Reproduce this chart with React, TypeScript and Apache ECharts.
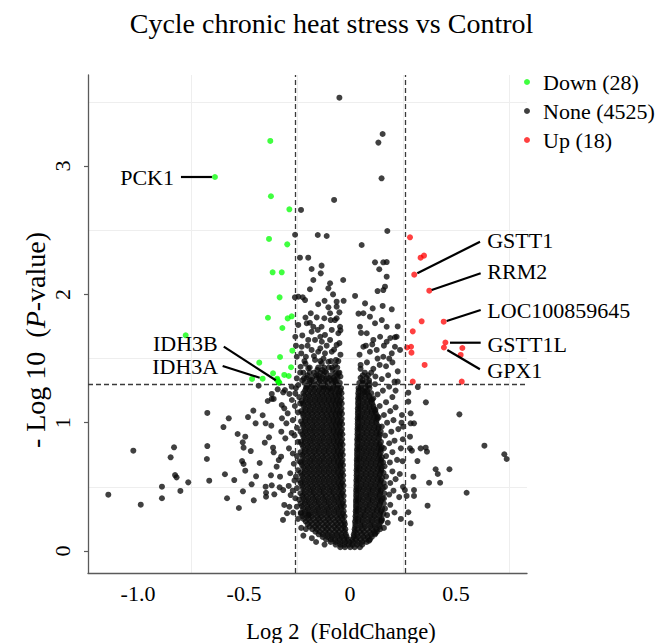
import React, { useEffect, useRef } from 'react';
import * as echarts from 'echarts';

const FONT = '"Liberation Serif", "Times New Roman", serif';

const TITLE = 'Cycle chronic heat stress vs Control';
const X_TITLE = 'Log 2  (FoldChange)';
const xTickValues = [-1, -0.5, 0, 0.5];
const xTickLabels = ['-1.0', '-0.5', '0', '0.5'];
const yTickValues = [0, 1, 2, 3];
const yTickLabels = ['0', '1', '2', '3'];
const xGridValues = [-0.75, -0.25, 0.25, 0.75];
const yGridValues = [0.5, 1.5, 2.5, 3.5];
const groupNames = ['Down', 'None', 'Up'];
const groupCounts = [28, 4525, 18];
const fcCutoff = 0.263; // log2(1.2)
const pCutoff = 1.301; // -log10(0.05)

// Down-regulated genes [log2FC, -log10 p]
const downPoints: number[][] = [
  [-0.637, 2.915], [-0.376, 3.196], [-0.373, 2.765], [-0.286, 2.663], [-0.382, 2.432],
  [-0.296, 2.39], [-0.365, 2.172], [-0.322, 2.172], [-0.332, 1.977], [-0.387, 1.818],
  [-0.294, 1.813], [-0.275, 1.829], [-0.319, 1.738], [-0.272, 1.561], [-0.33, 1.512],
  [-0.428, 1.468], [-0.278, 1.432], [-0.363, 1.385], [-0.31, 1.372], [-0.289, 1.364],
  [-0.462, 1.341], [-0.412, 1.343], [-0.343, 1.343], [-0.336, 1.315], [-0.775, 1.681],
  [-0.338, 1.322], [-0.333, 1.31], [-0.345, 1.335],
];

// Up-regulated genes
const upPoints: number[][] = [
  [0.283, 2.445], [0.333, 2.286], [0.349, 2.302], [0.303, 2.154], [0.374, 2.029],
  [0.338, 1.79], [0.442, 1.787], [0.296, 1.712], [0.45, 1.625], [0.443, 1.586],
  [0.53, 1.582], [0.269, 1.586], [0.288, 1.592], [0.29, 1.546], [0.522, 1.528],
  [0.352, 1.45], [0.296, 1.32], [0.527, 1.32],
];

// Not significant genes: scattered points read individually
const noneSparse: number[][] = [
  [-0.05, 3.533], [0.154, 3.25], [0.134, 3.183], [0.149, 2.905], [-0.075, 2.736], [0.176, 2.494],
  [0.055, 2.385], [0.118, 2.25], [0.157, 2.25], [0.173, 2.252], [-0.032, 2.112], [0.138, 2.196],
  [0.173, 2.138], [0.165, 2.06], [0.157, 2.034], [0.13, 2.026], [0.024, 1.988], [0.071, 1.93],
  [0.107, 1.891], [0.154, 1.91], [0.197, 1.884], [0.212, 1.666], [0.236, 1.567],
  [-0.231, 2.658], [-0.259, 2.465], [-0.152, 2.463], [-0.11, 2.455], [-0.236, 2.286], [-0.197, 2.286],
  [-0.134, 2.224], [-0.181, 2.198], [-0.173, 2.112], [-0.189, 2.04], [-0.138, 2.164], [-0.102, 2.047],
  [-0.26, 1.977], [-0.223, 1.977], [-0.15, 1.923], [-0.102, 1.899], [-0.185, 1.853], [-0.157, 1.821],
  [-0.244, 1.762], [-0.204, 1.775], [-0.173, 1.748], [-0.134, 1.748],
  [-0.094, 2.087], [-0.063, 1.943], [-0.244, 1.982], [-0.212, 1.956], [-0.121, 1.814], [-0.091, 1.8],
  [-0.063, 1.814], [-0.189, 1.779], [-0.258, 1.67], [-0.181, 1.709], [-0.152, 1.723], [-0.118, 1.684],
  [-0.086, 1.723], [-0.055, 1.697], [-0.197, 1.645], [-0.165, 1.645], [-0.133, 1.631], [-0.094, 1.645],
  [-0.063, 1.606], [-0.228, 1.592], [-0.181, 1.567], [-0.15, 1.553], [-0.118, 1.541], [-0.086, 1.553],
  [-0.251, 1.514], [-0.208, 1.514], [-0.165, 1.489], [-0.133, 1.463], [-0.102, 1.475], [-0.066, 1.489],
  [-0.233, 1.436], [-0.197, 1.424], [-0.154, 1.411], [-0.118, 1.398], [-0.082, 1.411], [-0.055, 1.385],
  [-0.251, 1.346], [-0.217, 1.346], [-0.181, 1.333], [-0.145, 1.346], [-0.11, 1.346], [-0.075, 1.333],
  [-0.244, 1.294], [-0.204, 1.281], [-0.165, 1.294], [-0.126, 1.281], [-0.094, 1.268], [-0.06, 1.294],
  [-0.307, 1.255], [-0.258, 1.229],
  [-0.045, 1.72], [-0.05, 1.86], [-0.225, 1.68], [-0.255, 1.6], [-0.14, 1.58], [-0.17, 1.52],
  [-0.1, 1.43], [-0.21, 1.46], [-0.07, 1.45], [-0.125, 1.5], [-0.19, 1.39], [-0.235, 1.39],
  [-0.16, 1.37], [-0.045, 1.36], [-0.09, 1.37], [-0.13, 1.41], [-0.2, 1.6], [-0.11, 1.6],
  [-0.075, 1.57], [-0.045, 1.53], [-0.23, 1.54], [-0.14, 1.67], [-0.21, 1.82], [-0.12, 1.95], [-0.08, 2.0],
  [0.063, 1.853], [0.094, 1.826], [0.118, 1.775], [0.15, 1.8], [0.173, 1.748], [0.22, 1.67],
  [0.212, 1.592], [0.047, 1.748], [0.079, 1.697], [0.11, 1.645], [0.142, 1.67], [0.173, 1.631],
  [0.197, 1.541], [0.063, 1.592], [0.094, 1.553], [0.126, 1.567], [0.157, 1.514], [-0.047, 1.748],
  [-0.071, 1.8], [-0.094, 1.853], [-0.063, 1.904],
  [0.05, 1.45], [0.08, 1.47], [0.11, 1.42], [0.14, 1.45], [0.17, 1.44], [0.2, 1.47],
  [0.06, 1.37], [0.09, 1.33], [0.12, 1.36], [0.15, 1.34], [0.18, 1.37], [0.21, 1.32],
  [0.225, 1.4], [0.185, 1.5], [0.13, 1.5], [0.045, 1.53], [0.075, 1.6], [0.105, 1.61],
  [0.16, 1.6], [0.19, 1.66], [0.225, 1.75], [0.04, 1.85], [-0.03, 1.95], [0.05, 1.42],
  [-0.05, 1.62], [0.052, 1.7],
  // left tail
  [-1.14, 0.439], [-1.022, 0.782], [-0.987, 0.361], [-0.887, 0.501], [-0.887, 0.411], [-0.846, 0.73],
  [-0.83, 0.808], [-0.825, 0.592], [-0.818, 0.574], [-0.8, 0.468], [-0.763, 0.535], [-0.673, 1.076],
  [-0.673, 0.818], [-0.675, 0.717], [-0.664, 0.548], [-0.597, 0.966], [-0.572, 1.034], [-0.59, 0.598],
  [-0.58, 0.411], [-0.546, 0.553], [-0.524, 0.335], [-0.53, 0.912], [-0.506, 0.847], [-0.494, 0.891],
  [-0.502, 0.805], [-0.468, 0.779], [-0.509, 0.701], [-0.502, 0.678], [-0.494, 0.626], [-0.505, 0.465],
  [-0.464, 0.52], [-0.443, 0.582], [-0.454, 0.395], [-0.481, 1.044], [-0.456, 1.094], [-0.445, 0.995],
  [-0.412, 1.058], [-0.398, 0.995], [-0.371, 0.977], [-0.402, 0.844], [-0.382, 0.886], [-0.363, 0.805],
  [-0.36, 0.769], [-0.426, 0.686], [-0.398, 0.501], [-0.396, 0.454], [-0.369, 0.512], [-0.357, 0.442],
  [-0.396, 0.423], [-0.373, 0.59], [-0.332, 0.496], [-0.315, 0.475], [-0.31, 0.359], [-0.286, 0.345],
  [-0.297, 0.294], [-0.316, 0.242], [-0.208, 0.171], [-0.195, 0.281], [-0.346, 0.657], [-0.33, 0.579],
  [-0.336, 0.709], [-0.325, 0.735], [-0.324, 0.93], [-0.321, 1.034], [-0.31, 1.112], [-0.369, 1.185],
  [-0.388, 1.169], [-0.36, 1.185], [-0.369, 1.224], [-0.341, 1.26], [-0.431, 1.288], [-0.315, 1.237],
  [-0.286, 1.224], [-0.274, 1.177], [-0.322, 1.138], [-0.294, 1.073], [-0.3, 0.995], [-0.305, 0.878],
  [-0.288, 0.8], [-0.282, 0.606], [-0.28, 0.436], [-0.258, 0.411], [-0.251, 0.345], [-0.289, 0.507],
  // right tail
  [0.358, 1.159], [0.516, 1.065], [0.634, 0.821], [0.728, 0.754], [0.739, 0.717], [0.55, 0.454],
  [0.469, 0.637], [0.425, 0.532], [0.404, 0.637], [0.414, 0.6], [0.373, 0.532], [0.366, 0.353],
  [0.318, 0.701], [0.333, 0.8], [0.357, 0.805], [0.363, 0.774], [0.299, 0.579], [0.302, 0.475],
  [0.302, 0.429], [0.286, 0.216], [0.275, 0.302], [0.286, 1.073], [0.286, 0.995], [0.302, 0.995],
  [0.283, 0.891], [0.275, 1.164], [0.275, 1.234], [0.32, 1.278], [0.283, 0.8], [0.292, 0.782],
  [0.267, 0.429], [0.259, 0.475], [0.249, 0.871], [0.245, 1.06], [0.251, 0.969],
  // right fringe of the core
  [0.16, 0.18], [0.15, 0.24], [0.175, 0.28], [0.165, 0.33], [0.19, 0.36], [0.16, 0.41],
  [0.185, 0.44], [0.205, 0.47], [0.165, 0.5], [0.19, 0.53], [0.215, 0.56], [0.17, 0.58],
  [0.2, 0.62], [0.163, 0.66], [0.188, 0.69], [0.222, 0.71], [0.17, 0.74], [0.2, 0.77],
  [0.16, 0.8], [0.185, 0.84], [0.21, 0.86], [0.165, 0.9], [0.195, 0.93], [0.228, 0.95],
  [0.15, 0.97], [0.175, 1.0], [0.205, 1.02], [0.16, 1.06], [0.19, 1.09], [0.215, 1.12],
  [0.14, 1.13], [0.17, 1.16], [0.2, 1.2], [0.13, 1.22], [0.155, 1.25], [0.185, 1.28],
  [0.215, 1.25], [0.235, 0.6], [0.24, 0.8], [0.243, 1.0], [0.232, 0.42], [0.21, 0.3],
  [0.24, 0.25], [0.12, 0.14], [0.09, 0.08], [0.178, 0.22], [0.25, 0.5], [0.248, 0.7],
  [0.225, 1.32], [0.118, 1.3], [0.09, 1.29], [0.06, 1.31], [0.07, 1.24], [0.105, 1.18],
  [0.12, 1.1], [0.135, 1.04],
  // left fringe of the core
  [-0.245, 0.25], [-0.24, 0.4], [-0.25, 0.49], [-0.262, 0.55], [-0.245, 0.63], [-0.265, 0.68],
  [-0.25, 0.74], [-0.27, 0.76], [-0.245, 0.85], [-0.262, 0.9], [-0.25, 0.96], [-0.27, 1.02],
  [-0.245, 1.08], [-0.26, 1.13], [-0.24, 1.2], [-0.255, 1.27], [-0.27, 0.47], [-0.268, 0.3],
  [-0.23, 0.18], [-0.22, 0.12], [-0.18, 0.1], [-0.16, 0.07], [-0.12, 0.05], [-0.255, 0.58],
  [-0.275, 0.92], [-0.235, 1.15], [-0.275, 1.28], [-0.232, 0.3], [-0.24, 0.7], [-0.238, 0.55],
];

// Not significant genes: the dense core of the volcano, row by row [-log10 p, log2FC values]
const noneCoreRows: [number, number[]][] = [
  [0.03, [-0.046, -0.024, 0.001, 0.022, 0.047]],
  [0.07, [-0.091, -0.068, -0.047, -0.024, -0.003, 0.013, 0.036, 0.057, 0.079]],
  [0.11, [-0.129, -0.105, -0.084, -0.059, -0.038, -0.016, 0.017, 0.038, 0.063, 0.084, 0.103]],
  [0.15, [-0.163, -0.142, -0.117, -0.096, -0.071, -0.05, -0.025, 0.022, 0.046, 0.067, 0.092, 0.113, 0.127]],
  [0.19, [-0.191, -0.166, -0.145, -0.12, -0.099, -0.074, -0.053, -0.029, 0.025, 0.05, 0.071, 0.096, 0.117, 0.139]],
  [0.23, [-0.209, -0.187, -0.162, -0.141, -0.116, -0.095, -0.07, -0.049, -0.027, 0.024, 0.038, 0.059, 0.084, 0.105, 0.13, 0.147]],
  [0.27, [-0.224, -0.201, -0.18, -0.155, -0.134, -0.109, -0.088, -0.063, -0.042, -0.026, 0.026, 0.049, 0.07, 0.095, 0.116, 0.139]],
  [0.31, [-0.213, -0.192, -0.167, -0.146, -0.121, -0.1, -0.075, -0.054, -0.03, 0.027, 0.036, 0.061, 0.082, 0.107, 0.128, 0.146]],
  [0.35, [-0.227, -0.202, -0.181, -0.156, -0.135, -0.11, -0.089, -0.064, -0.043, -0.029, 0.028, 0.049, 0.074, 0.095, 0.12, 0.139]],
  [0.39, [-0.214, -0.193, -0.168, -0.147, -0.122, -0.101, -0.076, -0.055, -0.031, 0.028, 0.038, 0.061, 0.086, 0.107, 0.132, 0.146]],
  [0.43, [-0.225, -0.204, -0.179, -0.158, -0.133, -0.112, -0.087, -0.066, -0.044, -0.03, 0.029, 0.05, 0.075, 0.096, 0.121, 0.14]],
  [0.47, [-0.216, -0.191, -0.17, -0.145, -0.124, -0.099, -0.078, -0.053, -0.032, 0.029, 0.039, 0.062, 0.087, 0.108, 0.133, 0.145]],
  [0.51, [-0.226, -0.203, -0.18, -0.157, -0.134, -0.111, -0.088, -0.065, -0.045, -0.031, 0.03, 0.051, 0.074, 0.097, 0.12, 0.141]],
  [0.55, [-0.215, -0.192, -0.169, -0.146, -0.123, -0.1, -0.077, -0.054, -0.033, 0.03, 0.04, 0.063, 0.086, 0.109, 0.132, 0.146]],
  [0.59, [-0.227, -0.204, -0.181, -0.158, -0.135, -0.112, -0.089, -0.066, -0.046, -0.032, 0.031, 0.052, 0.075, 0.098, 0.121, 0.14]],
  [0.63, [-0.214, -0.191, -0.168, -0.145, -0.122, -0.099, -0.076, -0.055, -0.034, 0.031, 0.041, 0.064, 0.087, 0.11, 0.133, 0.147]],
  [0.67, [-0.226, -0.202, -0.18, -0.156, -0.134, -0.11, -0.088, -0.064, -0.046, -0.033, 0.032, 0.053, 0.076, 0.099, 0.122, 0.141]],
  [0.71, [-0.215, -0.19, -0.168, -0.144, -0.122, -0.098, -0.076, -0.054, -0.035, 0.032, 0.042, 0.065, 0.088, 0.111, 0.134, 0.146]],
  [0.75, [-0.225, -0.203, -0.179, -0.157, -0.133, -0.111, -0.087, -0.065, -0.047, -0.034, 0.033, 0.054, 0.077, 0.1, 0.123, 0.14]],
  [0.79, [-0.214, -0.192, -0.168, -0.146, -0.122, -0.1, -0.076, -0.056, -0.036, 0.033, 0.043, 0.066, 0.089, 0.112, 0.135, 0.145]],
  [0.83, [-0.226, -0.202, -0.18, -0.156, -0.134, -0.11, -0.088, -0.066, -0.048, -0.035, 0.034, 0.055, 0.078, 0.101, 0.124, 0.14]],
  [0.87, [-0.215, -0.191, -0.169, -0.145, -0.123, -0.099, -0.077, -0.056, -0.037, 0.034, 0.044, 0.067, 0.09, 0.113, 0.136]],
  [0.91, [-0.225, -0.203, -0.179, -0.157, -0.133, -0.111, -0.087, -0.066, -0.049, -0.036, 0.035, 0.056, 0.079, 0.102, 0.125, 0.14]],
  [0.95, [-0.214, -0.19, -0.168, -0.144, -0.122, -0.098, -0.077, -0.057, -0.038, 0.035, 0.045, 0.068, 0.091, 0.114, 0.134]],
  [0.99, [-0.224, -0.202, -0.178, -0.156, -0.132, -0.11, -0.087, -0.067, -0.05, -0.037, 0.036, 0.057, 0.08, 0.103, 0.126]],
  [1.03, [-0.213, -0.19, -0.167, -0.144, -0.121, -0.099, -0.078, -0.058, -0.039, 0.036, 0.046, 0.069, 0.092, 0.115, 0.128]],
  [1.07, [-0.223, -0.2, -0.178, -0.155, -0.132, -0.11, -0.088, -0.068, -0.051, -0.038, 0.037, 0.058, 0.081, 0.104, 0.122]],
  [1.11, [-0.212, -0.189, -0.166, -0.143, -0.121, -0.099, -0.079, -0.059, -0.04, 0.037, 0.047, 0.07, 0.093, 0.113]],
  [1.15, [-0.222, -0.199, -0.177, -0.154, -0.132, -0.11, -0.089, -0.069, -0.052, -0.039, 0.038, 0.059, 0.082, 0.105]],
  [1.19, [-0.21, -0.188, -0.165, -0.143, -0.121, -0.1, -0.08, -0.06, -0.041, 0.038, 0.048, 0.071, 0.094, 0.11]],
  [1.23, [-0.22, -0.198, -0.176, -0.153, -0.132, -0.111, -0.09, -0.07, -0.053, -0.04, 0.039, 0.06, 0.083, 0.1]],
  [1.27, [-0.208, -0.186, -0.164, -0.142, -0.121, -0.1, -0.081, -0.061, -0.042, 0.04, 0.05, 0.072, 0.092]],
  [1.31, [-0.215, -0.19, -0.17, -0.148, -0.126, -0.104, -0.085, -0.066, -0.048, 0.044, 0.066, 0.09]],
  [1.35, [-0.205, -0.178, -0.156, -0.13, -0.1, -0.078, -0.058, 0.05, 0.078]],
  [1.39, [-0.22, -0.17, -0.14, -0.112, -0.068, -0.05, 0.07, 0.1]],
  [1.43, [-0.19, -0.15, -0.122, -0.085, -0.06]],
  [1.48, [-0.215, -0.14, -0.09, -0.055]],
];

// Second, interleaved layer of the dense core
const noneCoreRows2: [number, number[]][] = [
  [0.05, [-0.068, -0.046, -0.025, -0.006, 0.012, 0.034, 0.058]],
  [0.09, [-0.113, -0.09, -0.07, -0.048, -0.027, -0.01, 0.012, 0.028, 0.05, 0.072, 0.094]],
  [0.13, [-0.148, -0.128, -0.106, -0.083, -0.062, -0.04, -0.02, 0.018, 0.034, 0.056, 0.078, 0.1, 0.118]],
  [0.17, [-0.178, -0.156, -0.131, -0.109, -0.086, -0.063, -0.04, -0.022, 0.022, 0.036, 0.058, 0.081, 0.104, 0.126, 0.142]],
  [0.21, [-0.2, -0.178, -0.154, -0.131, -0.108, -0.085, -0.062, -0.04, -0.024, 0.025, 0.048, 0.07, 0.094, 0.116, 0.14]],
  [0.25, [-0.219, -0.196, -0.172, -0.149, -0.126, -0.103, -0.08, -0.057, -0.036, 0.027, 0.038, 0.06, 0.083, 0.106, 0.128, 0.15]],
  [0.29, [-0.232, -0.212, -0.19, -0.167, -0.144, -0.121, -0.098, -0.075, -0.052, -0.033, 0.028, 0.05, 0.072, 0.095, 0.118, 0.142, 0.158]],
  [0.33, [-0.221, -0.199, -0.176, -0.153, -0.13, -0.107, -0.084, -0.061, -0.04, 0.029, 0.04, 0.062, 0.085, 0.108, 0.131, 0.152]],
  [0.37, [-0.233, -0.213, -0.19, -0.167, -0.144, -0.121, -0.098, -0.075, -0.052, -0.035, 0.029, 0.05, 0.073, 0.096, 0.119, 0.142, 0.16]],
  [0.41, [-0.22, -0.197, -0.174, -0.151, -0.128, -0.105, -0.082, -0.059, -0.041, 0.03, 0.041, 0.063, 0.086, 0.109, 0.132, 0.153]],
  [0.45, [-0.234, -0.214, -0.191, -0.168, -0.145, -0.122, -0.099, -0.076, -0.054, -0.037, 0.03, 0.051, 0.074, 0.097, 0.12, 0.143, 0.162]],
  [0.49, [-0.222, -0.198, -0.175, -0.152, -0.129, -0.106, -0.083, -0.06, -0.042, 0.031, 0.042, 0.064, 0.087, 0.11, 0.133, 0.155]],
  [0.53, [-0.233, -0.213, -0.19, -0.167, -0.144, -0.121, -0.098, -0.075, -0.055, -0.038, 0.031, 0.052, 0.075, 0.098, 0.121, 0.144, 0.16]],
  [0.57, [-0.221, -0.197, -0.174, -0.151, -0.128, -0.105, -0.082, -0.06, -0.043, 0.032, 0.043, 0.065, 0.088, 0.111, 0.134, 0.152]],
  [0.61, [-0.234, -0.214, -0.191, -0.168, -0.145, -0.122, -0.099, -0.076, -0.056, -0.039, 0.032, 0.053, 0.076, 0.099, 0.122, 0.145, 0.158]],
  [0.65, [-0.22, -0.198, -0.175, -0.152, -0.129, -0.106, -0.083, -0.061, -0.044, 0.033, 0.044, 0.066, 0.089, 0.112, 0.135, 0.15]],
  [0.69, [-0.232, -0.213, -0.19, -0.167, -0.144, -0.121, -0.098, -0.075, -0.057, -0.04, 0.033, 0.054, 0.077, 0.1, 0.123, 0.146, 0.156]],
  [0.73, [-0.222, -0.197, -0.174, -0.151, -0.128, -0.105, -0.082, -0.062, -0.045, 0.034, 0.045, 0.067, 0.09, 0.113, 0.136, 0.151]],
  [0.77, [-0.233, -0.214, -0.191, -0.168, -0.145, -0.122, -0.099, -0.076, -0.058, -0.041, 0.034, 0.055, 0.078, 0.101, 0.124, 0.145]],
  [0.81, [-0.221, -0.198, -0.175, -0.152, -0.129, -0.106, -0.083, -0.063, -0.046, 0.035, 0.046, 0.068, 0.091, 0.114, 0.137, 0.15]],
  [0.85, [-0.232, -0.213, -0.19, -0.167, -0.144, -0.121, -0.098, -0.076, -0.059, -0.042, 0.035, 0.056, 0.079, 0.102, 0.125, 0.146]],
  [0.89, [-0.22, -0.197, -0.174, -0.151, -0.128, -0.105, -0.083, -0.064, -0.047, 0.036, 0.047, 0.069, 0.092, 0.115, 0.138]],
  [0.93, [-0.233, -0.212, -0.19, -0.167, -0.144, -0.121, -0.098, -0.077, -0.06, -0.043, 0.036, 0.057, 0.08, 0.103, 0.126, 0.145]],
  [0.97, [-0.221, -0.198, -0.175, -0.152, -0.129, -0.106, -0.084, -0.065, -0.048, 0.037, 0.048, 0.07, 0.093, 0.116, 0.136]],
  [1.01, [-0.231, -0.212, -0.19, -0.167, -0.144, -0.121, -0.098, -0.078, -0.061, -0.044, 0.037, 0.058, 0.081, 0.104, 0.124]],
  [1.05, [-0.22, -0.197, -0.174, -0.151, -0.128, -0.106, -0.085, -0.066, -0.049, 0.038, 0.049, 0.071, 0.094, 0.115, 0.13]],
  [1.09, [-0.23, -0.211, -0.189, -0.166, -0.143, -0.121, -0.099, -0.079, -0.062, -0.045, 0.038, 0.059, 0.082, 0.103, 0.118]],
  [1.13, [-0.219, -0.196, -0.173, -0.151, -0.129, -0.107, -0.086, -0.067, -0.05, 0.039, 0.05, 0.072, 0.093, 0.11]],
  [1.17, [-0.228, -0.21, -0.188, -0.165, -0.143, -0.121, -0.1, -0.08, -0.063, -0.046, 0.039, 0.06, 0.082, 0.1]],
  [1.21, [-0.216, -0.194, -0.172, -0.15, -0.129, -0.108, -0.087, -0.068, -0.051, 0.04, 0.051, 0.072, 0.09]],
  [1.25, [-0.212, -0.19, -0.168, -0.147, -0.126, -0.105, -0.085, -0.064, -0.046, 0.041, 0.06, 0.08]],
  [1.29, [-0.2, -0.176, -0.137, -0.115, -0.075, -0.055, 0.055, 0.082]],
  [1.33, [-0.226, -0.19, -0.142, -0.117, -0.09, -0.068, 0.06]],
  [1.37, [-0.2, -0.15, -0.125, -0.064, 0.085]],
];

// Labelled genes
const labelGeneNames = ['PCK1', 'IDH3B', 'IDH3A', 'GSTT1', 'RRM2', 'LOC100859645', 'GSTT1L', 'GPX1'];
const labelGeneFC = [-0.637, -0.336, -0.412, 0.303, 0.374, 0.442, 0.45, 0.443];
const labelGeneP = [2.915, 1.315, 1.343, 2.154, 2.029, 1.787, 1.625, 1.586];

// label placement (pixel offsets from the point) – style only
const labelLayout = [
  { start: [-3, 0], end: [-34, 0], text: [-41, 1], align: 'right' },
  { start: [-3, -2], end: [-55, -35.6], text: [-61, -39], align: 'right' },
  { start: [-3, -1], end: [-40, -12.7], text: [-44.4, -11.7], align: 'right' },
  { start: [3.1, -1.3], end: [65.8, -32.9], text: [73, -34.6], align: 'left' },
  { start: [2.4, -0.7], end: [51.4, -17.4], text: [58, -18.7], align: 'left' },
  { start: [3, -0.7], end: [37, -11.7], text: [43.6, -11.7], align: 'left' },
  { start: [4.6, 0.2], end: [35.3, 0.2], text: [42, 1.5], align: 'left' },
  { start: [3.4, 2.5], end: [36, 21.8], text: [43.4, 22.5], align: 'left' },
];

const rowsToPoints = (rows: [number, number[]][]) => rows.flatMap(([y, xs]) => xs.map((x) => [x, y]));

const nonePoints: number[][] = [...rowsToPoints(noneCoreRows), ...rowsToPoints(noneCoreRows2), ...noneSparse];

const legendNames = groupNames.map((n, i) => `${n} (${groupCounts[i]})`);

function tickLabel(values: number[], labels: string[], v: number) {
  for (let i = 0; i < values.length; i++) if (Math.abs(values[i] - v) < 1e-9) return labels[i];
  return '';
}

export default function App() {
  const ref = useRef<HTMLDivElement>(null);
  useEffect(() => {
    document.body.style.margin = '0';
    const chart = echarts.init(ref.current!, null, { renderer: 'svg' });
    const option: any = {
      animation: false,
      backgroundColor: '#ffffff',
      tooltip: { show: false },
      grid: { left: 88, right: 132, top: 75, bottom: 70, containLabel: false },
      legend: {
        data: legendNames,
        orient: 'vertical',
        left: 519,
        top: 66,
        icon: 'circle',
        itemWidth: 22,
        itemHeight: 6,
        itemGap: 7,
        selectedMode: false,
        textStyle: { fontSize: 22, fontFamily: FONT, color: '#000' },
      },
      xAxis: {
        type: 'value',
        min: -1.2358,
        max: 0.8349,
        axisLine: { show: true, onZero: false, lineStyle: { color: '#5a5a5a', width: 1.3 } },
        axisTick: { show: false },
        splitLine: { show: false },
        axisLabel: {
          customValues: xTickValues,
          formatter: (v: number) => tickLabel(xTickValues, xTickLabels, v),
          fontSize: 22,
          fontFamily: FONT,
          color: '#000',
          margin: 9,
        },
      },
      yAxis: {
        type: 'value',
        min: -0.1715,
        max: 3.71,
        axisLine: { show: true, onZero: false, lineStyle: { color: '#5a5a5a', width: 1.3 } },
        axisTick: { show: true, length: 4, customValues: yTickValues, lineStyle: { color: '#5a5a5a', width: 1.2 } },
        splitLine: { show: false },
        axisLabel: {
          customValues: yTickValues,
          formatter: (v: number) => tickLabel(yTickValues, yTickLabels, v),
          rotate: 90,
          fontSize: 22,
          fontFamily: FONT,
          color: '#000',
          margin: 15,
        },
      },
      series: [
        {
          type: 'scatter',
          name: 'grid',
          data: [],
          silent: true,
          z: 0,
          markLine: {
            silent: true,
            z: 0,
            symbol: ['none', 'none'],
            label: { show: false },
            lineStyle: { color: '#eeeeee', width: 1, type: 'solid' },
            data: [
              ...xGridValues.map((v) => ({ xAxis: v })),
              ...yGridValues.map((v) => ({ yAxis: v })),
            ],
          },
        },
        {
          type: 'scatter',
          name: legendNames[1],
          data: nonePoints,
          symbolSize: 6,
          silent: true,
          z: 2,
          itemStyle: { color: '#0a0a0a', opacity: 0.78 },
        },
        {
          type: 'scatter',
          name: legendNames[0],
          data: downPoints,
          symbolSize: 6,
          silent: true,
          z: 3,
          itemStyle: { color: '#00ff00', opacity: 0.75 },
        },
        {
          type: 'scatter',
          name: legendNames[2],
          data: upPoints,
          symbolSize: 6,
          silent: true,
          z: 3,
          itemStyle: { color: '#ff0000', opacity: 0.75 },
        },
        {
          type: 'scatter',
          name: 'cutoffs',
          data: [],
          silent: true,
          z: 4,
          markLine: {
            silent: true,
            z: 5,
            symbol: ['none', 'none'],
            label: { show: false },
            lineStyle: { color: '#3a3a3a', width: 1.3, type: [5, 3] },
            data: [{ xAxis: -fcCutoff }, { xAxis: fcCutoff }, { yAxis: pCutoff }],
          },
        },
        {
          type: 'custom',
          name: 'labels',
          silent: true,
          z: 6,
          clip: false,
          data: labelGeneNames.map((_, i) => [labelGeneFC[i], labelGeneP[i]]),
          renderItem: (params: any, api: any) => {
            const i = params.dataIndex;
            const p = api.coord([api.value(0), api.value(1)]);
            const L = labelLayout[i];
            return {
              type: 'group',
              children: [
                {
                  type: 'line',
                  shape: { x1: p[0] + L.start[0], y1: p[1] + L.start[1], x2: p[0] + L.end[0], y2: p[1] + L.end[1] },
                  style: { stroke: '#000', lineWidth: 2.2 },
                },
                {
                  type: 'text',
                  x: p[0] + L.text[0],
                  y: p[1] + L.text[1],
                  style: {
                    text: labelGeneNames[i],
                    fill: '#000',
                    fontSize: 22,
                    fontFamily: FONT,
                    align: L.align,
                    verticalAlign: 'middle',
                  },
                },
              ],
            };
          },
        },
      ],
      graphic: [
        {
          type: 'text',
          x: 331.5,
          y: 23,
          style: { text: TITLE, fill: '#000', fontSize: 28, fontFamily: FONT, align: 'center', verticalAlign: 'middle' },
        },
        {
          type: 'text',
          x: 341,
          y: 631,
          style: { text: X_TITLE, fill: '#000', fontSize: 22.5, fontFamily: FONT, align: 'center', verticalAlign: 'middle' },
        },
        {
          type: 'text',
          x: 35,
          y: 340,
          rotation: Math.PI / 2,
          style: {
            text: '- Log 10  ({i|P}-value)',
            fill: '#000',
            fontSize: 28,
            fontFamily: FONT,
            align: 'center',
            verticalAlign: 'middle',
            rich: { i: { fontStyle: 'italic', fontSize: 28, fontFamily: FONT, fill: '#000' } },
          },
        },
      ],
    };
    chart.setOption(option);
    return () => chart.dispose();
  }, []);
  return <div ref={ref} style={{ width: 659, height: 643, background: '#fff' }} />;
}
